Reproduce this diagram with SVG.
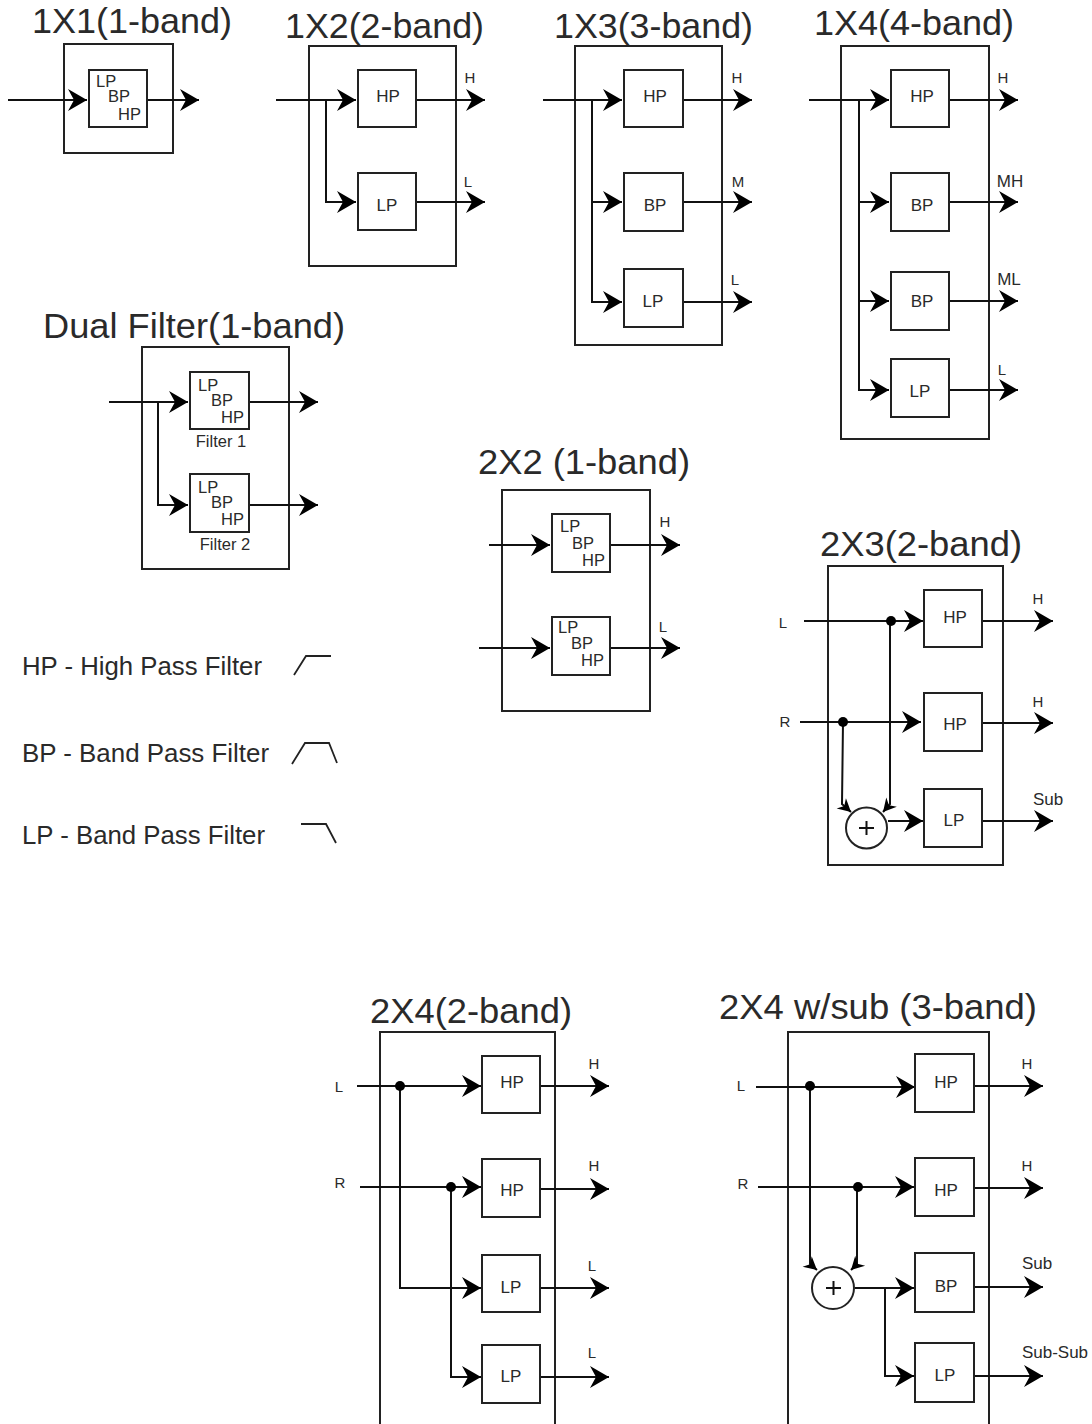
<svg xmlns="http://www.w3.org/2000/svg" width="1092" height="1424" viewBox="0 0 1092 1424">
<style>
text{font-family:"Liberation Sans",Arial,sans-serif;fill:#2a2a2a}
.t{font-size:35px;text-anchor:start}
.f{font-size:17px;text-anchor:middle}
.s{font-size:16.5px;text-anchor:start}
.o{font-size:15px;text-anchor:middle}
.p{font-size:17px;text-anchor:middle}
.c{font-size:16.5px;text-anchor:middle}
.l{font-size:25.5px}
.b{fill:#fff;stroke:#222;stroke-width:2}
.fr{fill:none;stroke:#222;stroke-width:2}
.w{fill:none;stroke:#111;stroke-width:2}
.a{marker-end:url(#ah)}
.a2{marker-end:url(#ah2)}
.d{fill:#000}
.y{fill:none;stroke:#222;stroke-width:1.8}
</style>
<defs>
<marker id="ah" markerUnits="userSpaceOnUse" markerWidth="22" markerHeight="24" viewBox="-20 -12 22 24" refX="0" refY="0" orient="auto" overflow="visible">
<path d="M-19,-11 L0,0 L-19,11 L-13,0 Z" fill="#000"/>
</marker>
<marker id="ah2" markerUnits="userSpaceOnUse" markerWidth="16" markerHeight="16" viewBox="-14 -8 16 16" refX="0" refY="0" orient="auto" overflow="visible">
<path d="M-13,-7 L0,0 L-13,7 L-9,0 Z" fill="#000"/>
</marker>
</defs>

<g id="frames">
<g id="frame-1x1"><rect class="fr" x="64" y="44" width="109" height="109"/><text class="t" x="32" y="33" textLength="200" lengthAdjust="spacingAndGlyphs">1X1(1-band)</text></g>
<g id="frame-1x2"><rect class="fr" x="309" y="46" width="147" height="220"/><text class="t" x="285" y="38" textLength="199" lengthAdjust="spacingAndGlyphs">1X2(2-band)</text></g>
<g id="frame-1x3"><rect class="fr" x="575" y="46" width="147" height="299"/><text class="t" x="554" y="38" textLength="199" lengthAdjust="spacingAndGlyphs">1X3(3-band)</text></g>
<g id="frame-1x4"><rect class="fr" x="841" y="46" width="148" height="393"/><text class="t" x="814" y="35" textLength="200" lengthAdjust="spacingAndGlyphs">1X4(4-band)</text></g>
<g id="frame-dual"><rect class="fr" x="142" y="347" width="147" height="222"/><text class="t" x="43" y="338" textLength="302" lengthAdjust="spacingAndGlyphs">Dual Filter(1-band)</text></g>
<g id="frame-2x2"><rect class="fr" x="502" y="490" width="148" height="221"/><text class="t" x="478" y="474" textLength="212" lengthAdjust="spacingAndGlyphs">2X2 (1-band)</text></g>
<g id="frame-2x3"><rect class="fr" x="828" y="566" width="175" height="299"/><text class="t" x="820" y="556" textLength="202" lengthAdjust="spacingAndGlyphs">2X3(2-band)</text></g>
<g id="frame-2x4"><rect class="fr" x="380" y="1032" width="175" height="400"/><text class="t" x="370" y="1023" textLength="202" lengthAdjust="spacingAndGlyphs">2X4(2-band)</text></g>
<g id="frame-2x4sub"><rect class="fr" x="788" y="1032" width="201" height="400"/><text class="t" x="719" y="1019" textLength="318" lengthAdjust="spacingAndGlyphs">2X4 w/sub (3-band)</text></g>
</g>

<g id="connectors">
<path class="w a" d="M8,100H87"/><path class="w a" d="M147,100H199"/>
<path class="w a" d="M276,100H356"/><path class="w a" d="M326,100V202H356"/><path class="w a" d="M416,100H485"/><path class="w a" d="M416,202H485"/>
<path class="w a" d="M543,100H622"/><path class="w a" d="M592,100V202H622"/><path class="w a" d="M592,202V302H622"/><path class="w a" d="M683,100H752"/><path class="w a" d="M683,202H752"/><path class="w a" d="M683,302H752"/>
<path class="w a" d="M809,100H889"/><path class="w a" d="M859,100V202H889"/><path class="w a" d="M859,202V301H889"/><path class="w a" d="M859,301V390H889"/><path class="w a" d="M949,100H1018"/><path class="w a" d="M949,202H1018"/><path class="w a" d="M949,301H1018"/><path class="w a" d="M949,390H1018"/>
<path class="w a" d="M109,402H188"/><path class="w a" d="M158,402V505H188"/><path class="w a" d="M249,402H318"/><path class="w a" d="M249,505H318"/>
<path class="w a" d="M489,545H550"/><path class="w a" d="M479,648H550"/><path class="w a" d="M610,545H680"/><path class="w a" d="M610,648H680"/>
<path class="w a" d="M804,621H923"/><path class="w a" d="M800,722H921"/><path class="w a2" d="M843,722L842,804L851,812"/><path class="w a2" d="M890,621V804L883,812"/><path class="w a" d="M888,821H923"/><path class="w a" d="M982,621H1053"/><path class="w a" d="M982,723H1053"/><path class="w a" d="M982,821H1053"/>
<circle class="d" cx="891" cy="621" r="5"/><circle class="d" cx="843" cy="722" r="5"/>
<path class="w a" d="M357,1086H481"/><path class="w a" d="M400,1086V1288H481"/><path class="w a" d="M360,1187H481"/><path class="w a" d="M451,1187V1377H481"/><path class="w a" d="M540,1086H609"/><path class="w a" d="M540,1189H609"/><path class="w a" d="M540,1288H609"/><path class="w a" d="M540,1377H609"/>
<circle class="d" cx="400" cy="1086" r="5"/><circle class="d" cx="451" cy="1187" r="5"/>
<path class="w a" d="M756,1087H915"/><path class="w a" d="M758,1187H914"/><path class="w a2" d="M810,1086V1264L817,1270"/><path class="w a2" d="M857,1187V1264L851,1270"/><path class="w a" d="M855,1288H914"/><path class="w a" d="M885,1288V1376H914"/><path class="w a" d="M974,1086H1043"/><path class="w a" d="M974,1188H1043"/><path class="w a" d="M974,1287H1043"/><path class="w a" d="M974,1376H1043"/>
<circle class="d" cx="810" cy="1086" r="5"/><circle class="d" cx="858" cy="1187" r="5"/>
</g>

<g id="f-1x1"><rect class="b" x="89" y="70" width="58" height="57"/><text class="s" x="96" y="87">LP</text><text class="s" x="108" y="102">BP</text><text class="s" x="118" y="120">HP</text></g>
<g id="f-1x2-hp"><rect class="b" x="358" y="70" width="58" height="57"/><text class="f" x="388" y="102">HP</text></g>
<g id="f-1x2-lp"><rect class="b" x="358" y="173" width="58" height="57"/><text class="f" x="387" y="211">LP</text></g>
<g id="f-1x3-hp"><rect class="b" x="624" y="70" width="59" height="57"/><text class="f" x="655" y="102">HP</text></g>
<g id="f-1x3-bp"><rect class="b" x="624" y="173" width="59" height="58"/><text class="f" x="655" y="211">BP</text></g>
<g id="f-1x3-lp"><rect class="b" x="624" y="269" width="59" height="58"/><text class="f" x="653" y="307">LP</text></g>
<g id="f-1x4-hp"><rect class="b" x="891" y="70" width="58" height="57"/><text class="f" x="922" y="102">HP</text></g>
<g id="f-1x4-bp1"><rect class="b" x="891" y="173" width="58" height="58"/><text class="f" x="922" y="211">BP</text></g>
<g id="f-1x4-bp2"><rect class="b" x="891" y="272" width="58" height="58"/><text class="f" x="922" y="307">BP</text></g>
<g id="f-1x4-lp"><rect class="b" x="891" y="359" width="58" height="58"/><text class="f" x="920" y="397">LP</text></g>
<g id="f-dual-1"><rect class="b" x="190" y="372" width="59" height="57"/><text class="s" x="198" y="391">LP</text><text class="s" x="211" y="406">BP</text><text class="s" x="221" y="423">HP</text><text class="c" x="221" y="447">Filter 1</text></g>
<g id="f-dual-2"><rect class="b" x="190" y="474" width="59" height="58"/><text class="s" x="198" y="493">LP</text><text class="s" x="211" y="508">BP</text><text class="s" x="221" y="525">HP</text><text class="c" x="225" y="550">Filter 2</text></g>
<g id="f-2x2-1"><rect class="b" x="552" y="514" width="58" height="58"/><text class="s" x="560" y="532">LP</text><text class="s" x="572" y="549">BP</text><text class="s" x="582" y="566">HP</text></g>
<g id="f-2x2-2"><rect class="b" x="552" y="617" width="58" height="58"/><text class="s" x="558" y="633">LP</text><text class="s" x="571" y="649">BP</text><text class="s" x="581" y="666">HP</text></g>
<g id="f-2x3-hp1"><rect class="b" x="924" y="590" width="58" height="57"/><text class="f" x="955" y="623">HP</text></g>
<g id="f-2x3-hp2"><rect class="b" x="924" y="693" width="58" height="58"/><text class="f" x="955" y="730">HP</text></g>
<g id="f-2x3-lp"><rect class="b" x="924" y="789" width="58" height="58"/><text class="f" x="954" y="826">LP</text></g>
<g id="sum-2x3"><circle class="b" cx="866.500" cy="828" r="20.500"/><path class="w" d="M859,828H874M866.500,821V835"/></g>
<g id="f-2x4-hp1"><rect class="b" x="482" y="1056" width="58" height="57"/><text class="f" x="512" y="1088">HP</text></g>
<g id="f-2x4-hp2"><rect class="b" x="482" y="1159" width="58" height="58"/><text class="f" x="512" y="1196">HP</text></g>
<g id="f-2x4-lp1"><rect class="b" x="482" y="1255" width="58" height="57"/><text class="f" x="511" y="1293">LP</text></g>
<g id="f-2x4-lp2"><rect class="b" x="482" y="1345" width="58" height="58"/><text class="f" x="511" y="1382">LP</text></g>
<g id="f-sub-hp1"><rect class="b" x="915" y="1054" width="59" height="58"/><text class="f" x="946" y="1088">HP</text></g>
<g id="f-sub-hp2"><rect class="b" x="915" y="1158" width="59" height="58"/><text class="f" x="946" y="1196">HP</text></g>
<g id="f-sub-bp"><rect class="b" x="915" y="1253" width="59" height="59"/><text class="f" x="946" y="1292">BP</text></g>
<g id="f-sub-lp"><rect class="b" x="915" y="1343" width="59" height="59"/><text class="f" x="945" y="1381">LP</text></g>
<g id="sum-sub"><circle class="b" cx="833" cy="1288" r="21"/><path class="w" d="M826,1288H841M833.500,1281V1295"/></g>

<g id="port-labels">
<text class="o" x="470" y="83">H</text><text class="o" x="468" y="187">L</text>
<text class="o" x="737" y="83">H</text><text class="o" x="738" y="187">M</text><text class="o" x="735" y="285">L</text>
<text class="o" x="1003" y="83">H</text><text class="p" x="1010" y="187">MH</text><text class="p" x="1009" y="285">ML</text><text class="o" x="1002" y="375">L</text>
<text class="o" x="665" y="527">H</text><text class="o" x="663" y="632">L</text>
<text class="o" x="783" y="628">L</text><text class="o" x="785" y="727">R</text><text class="o" x="1038" y="604">H</text><text class="o" x="1038" y="707">H</text><text class="p" x="1048" y="805">Sub</text>
<text class="o" x="339" y="1092">L</text><text class="o" x="340" y="1188">R</text><text class="o" x="594" y="1069">H</text><text class="o" x="594" y="1171">H</text><text class="o" x="592" y="1271">L</text><text class="o" x="592" y="1358">L</text>
<text class="o" x="741" y="1091">L</text><text class="o" x="743" y="1189">R</text><text class="o" x="1027" y="1069">H</text><text class="o" x="1027" y="1171">H</text><text class="p" x="1037" y="1269">Sub</text><text class="p" x="1055" y="1358">Sub-Sub</text>
</g>

<g id="legend">
<text class="l" x="22" y="675" textLength="240" lengthAdjust="spacingAndGlyphs">HP - High Pass Filter</text>
<text class="l" x="22" y="762" textLength="247" lengthAdjust="spacingAndGlyphs">BP - Band Pass Filter</text>
<text class="l" x="22" y="844" textLength="243" lengthAdjust="spacingAndGlyphs">LP - Band Pass Filter</text>
<path class="y" d="M294,675L306,656H331"/>
<path class="y" d="M292,764L305,743H329L337,763"/>
<path class="y" d="M301,824H326L336,843"/>
</g>
</svg>
